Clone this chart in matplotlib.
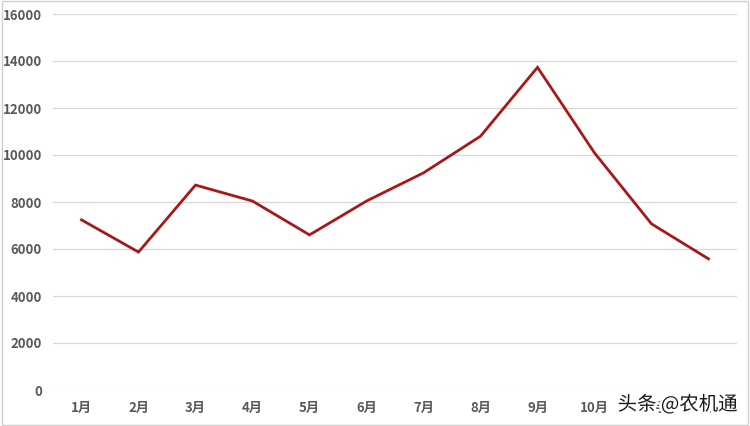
import matplotlib
matplotlib.use("Agg")
import matplotlib.pyplot as plt
import matplotlib.patheffects as pe
from matplotlib.patches import Rectangle

plt.rcParams['font.family'] = ['Noto Sans CJK SC', 'DejaVu Sans']

# data
months = ['1月', '2月', '3月', '4月', '5月', '6月', '7月', '8月', '9月', '10月', '11月', '12月']
values = [7240, 5870, 8720, 8040, 6600, 8040, 9240, 10800, 13730, 10090, 7070, 5580]
yticks = [0, 2000, 4000, 6000, 8000, 10000, 12000, 14000, 16000]

fig = plt.figure(figsize=(7.5, 4.26), dpi=100)
ax = fig.add_axes([53 / 750, 36 / 426, 684 / 750, 376 / 426])

x = list(range(len(months)))
ax.plot(x, values, color='#A81818', linewidth=2.0, solid_joinstyle='miter', zorder=3)

ax.set_xlim(-0.5, len(months) - 0.5)
ax.set_ylim(0, 16000)
ax.set_yticks(yticks)
ax.set_xticks(x)
ax.set_xticklabels(months)
ax.grid(axis='y', color='#D9D9D9', linewidth=0.9)
ax.set_axisbelow(True)
for s in ax.spines.values():
    s.set_visible(False)
ax.tick_params(length=0, labelsize=9.5, labelcolor='#595959', pad=8)
for lab in ax.get_xticklabels() + ax.get_yticklabels():
    lab.set_fontweight('bold')

# outer border of the picture
fig.patches.append(Rectangle((0.002, 0.003), 0.995, 0.994, transform=fig.transFigure,
                             fill=False, edgecolor='#D0D0D0', linewidth=1.0))

# watermark (covers the last two month labels, as in the original)
fig.text(0.984, 0.05, '头条 @农机通', ha='right', va='center', fontsize=14,
         color='#1a1a1a', zorder=10,
         path_effects=[pe.withStroke(linewidth=4, foreground='white')])

fig.savefig('out.png', dpi=100)
